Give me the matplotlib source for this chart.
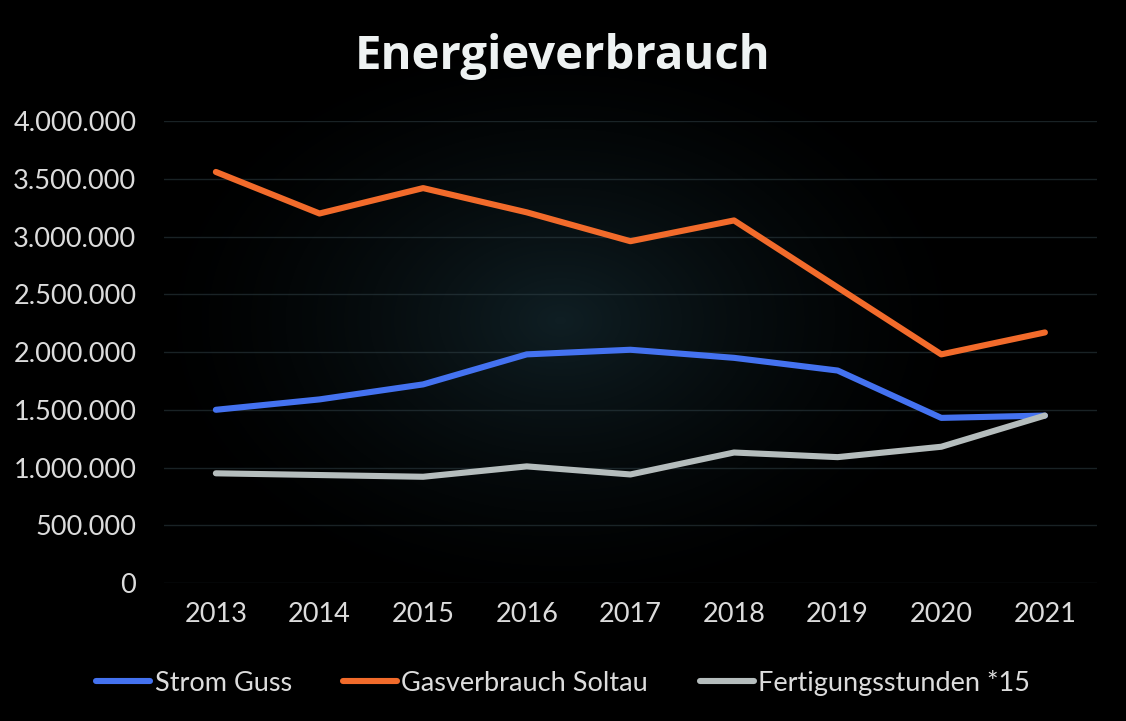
import numpy as np
import matplotlib.pyplot as plt
from matplotlib.ticker import FuncFormatter

# ----------------------------

years = ["2013", "2014", "2015", "2016", "2017", "2018", "2019", "2020", "2021"]

strom_guss = [1500000, 1590000, 1720000, 1980000, 2020000, 1950000, 1840000, 1430000, 1450000]

gas_soltau = [3560000, 3200000, 3420000, 3210000, 2960000, 3140000, 2560000, 1980000, 2170000]

fertigung = [950000, 935000, 920000, 1010000, 940000, 1130000, 1090000, 1180000, 1450000]

# ----------------------------

plt.rcParams["font.family"] = ["Lato", "DejaVu Sans"]

fig = plt.figure(figsize=(11.26, 7.21), dpi=100)
fig.patch.set_facecolor("black")

# dark background with a faint teal glow in the middle
bg = fig.add_axes([0, 0, 1, 1])
h, w = 721, 1126
yy, xx = np.mgrid[0:h, 0:w]
d = np.sqrt(((xx - 560) / 430.0) ** 2 + ((yy - 320) / 300.0) ** 2)
glow = np.clip(1 - d, 0, 1) ** 1.6
img = np.zeros((h, w, 3))
img[..., 0] = 0.06 * glow
img[..., 1] = 0.12 * glow
img[..., 2] = 0.14 * glow
bg.imshow(img, aspect="auto")
bg.axis("off")

ax = fig.add_axes([0.1457, 0.1914, 0.8283, 0.6406])
ax.set_facecolor("none")

x = np.arange(len(years))
lw = 4.4
ax.plot(x, strom_guss, color="#4472f0", lw=lw, solid_capstyle="round", label="Strom Guss", zorder=3)
ax.plot(x, gas_soltau, color="#f26b2b", lw=lw, solid_capstyle="round", label="Gasverbrauch Soltau", zorder=3)
ax.plot(x, fertigung, color="#b5bdbd", lw=lw, solid_capstyle="round", label="Fertigungsstunden *15", zorder=3)

ax.set_xlim(-0.5, len(years) - 0.5)
ax.set_ylim(0, 4000000)
ax.set_yticks(np.arange(0, 4000001, 500000))
ax.yaxis.set_major_formatter(FuncFormatter(lambda v, p: f"{int(v):,}".replace(",", ".")))
ax.set_xticks(x)
ax.set_xticklabels(years)

ax.grid(axis="y", color="#33444a", lw=1, alpha=0.5)
ax.set_axisbelow(True)
for s in ax.spines.values():
    s.set_visible(False)
ax.tick_params(colors="#dcdcdc", labelsize=19.5, length=0)
ax.tick_params(axis="y", pad=20)
ax.tick_params(axis="x", pad=14)

fig.text(0.5, 0.922, "Energieverbrauch",
         ha="center", va="center", color="#eef2f2", fontsize=34,
         fontweight="bold", family=["Open Sans", "DejaVu Sans"])

fig.legend(loc="center", bbox_to_anchor=(0.5, 0.053), ncol=3, frameon=False,
           fontsize=19.5, labelcolor="#dcdcdc", handlelength=2.0, handletextpad=0.15,
           columnspacing=1.9)

plt.savefig("out.png", dpi=100, facecolor=fig.get_facecolor())
